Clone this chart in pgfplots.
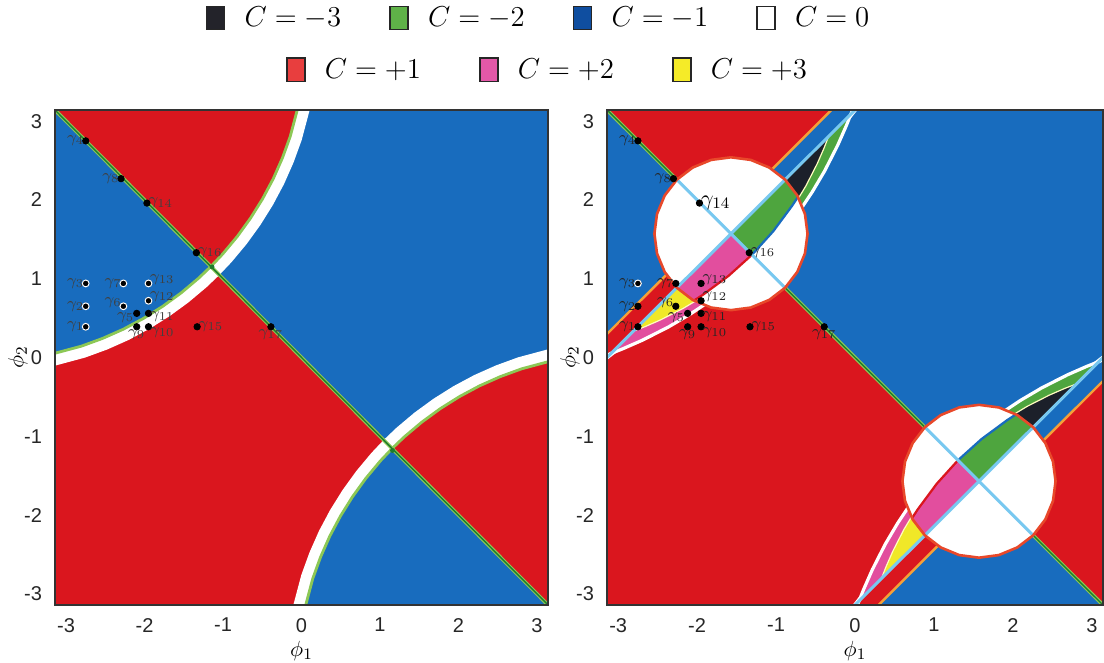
\documentclass[border=0pt]{standalone}
\usepackage[no-math]{fontspec}
\setmainfont{Liberation Sans}
\usepackage{pgfplots}
\pgfplotsset{compat=1.18}

\definecolor{cred}{RGB}{218,22,30}
\definecolor{cblue}{RGB}{24,108,190}
\definecolor{cgreen}{RGB}{78,165,62}
\definecolor{cpink}{RGB}{226,78,158}
\definecolor{cblack}{RGB}{28,32,42}
\definecolor{cyellow}{RGB}{240,232,40}
\definecolor{clb}{RGB}{120,200,240}
\definecolor{corange}{RGB}{245,160,55}
\definecolor{ccirc}{RGB}{232,72,42}
\definecolor{cdg}{RGB}{30,125,45}
\definecolor{clg}{RGB}{140,200,85}
\definecolor{lgblack}{RGB}{35,35,42}
\definecolor{lggreen}{RGB}{95,178,72}
\definecolor{lgblue}{RGB}{15,78,160}
\definecolor{lgred}{RGB}{232,62,62}
\definecolor{lgpink}{RGB}{228,88,168}
\definecolor{lgyellow}{RGB}{245,235,40}

\pgfplotsset{
  panel/.style={
    scale only axis, height=247.5pt,
    xmin=-3.1416, xmax=3.1416, ymin=-3.1416, ymax=3.1416,
    axis on top, clip=true,
    xtick={-3,-2,-1,0,1,2,3}, ytick={-3,-2,-1,0,1,2,3},
    xticklabels={-3,-2,-1,0,1,2,3}, yticklabels={-3,-2,-1,0,1,2,3},
    major tick length=0pt,
    tick label style={font=\fontsize{10}{12}\selectfont, text=black!85},
    xticklabel style={yshift=-3pt},
    yticklabel style={xshift=-3pt},
    axis line style={draw=black!80, line width=1pt},
    xlabel={$\phi_1$}, ylabel={$\phi_2$},
    label style={font=\fontsize{11}{13}\selectfont},
    xlabel style={at={(axis description cs:0.5,-0.092)}, anchor=center},
    ylabel style={at={(axis description cs:-0.075,0.5)}, anchor=center},
    legend image code/.code={\path[draw=none, fill=none] (0pt,-6pt) rectangle (17pt,6pt); \draw[##1] (0pt,-5.8pt) rectangle (9pt,5.8pt);},
    legend style={draw=none, fill=none, font=\fontsize{15}{18}\selectfont, anchor=center},
  },
  lab/.style={only marks, mark=*, mark size=1.6pt, mark options={fill=black, draw=black},
    nodes near coords, point meta=explicit symbolic,
    nodes near coords style={font=\fontsize{8}{9}\selectfont, inner sep=0.6pt, #1}},
}

\begin{document}
\begin{tikzpicture}
\useasboundingbox (0,0) rectangle (552pt,331.5pt);

% ================= LEFT PANEL =================
\begin{axis}[panel, width=246.5pt, at={(27.5pt,29pt)}, anchor=south west,
  legend columns=4, legend style={at={(axis description cs:0.983,1.186)},
  /tikz/every even column/.append style={column sep=22pt}}]
\addlegendimage{fill=lgblack, draw=black!85, line width=0.8pt}
\addlegendimage{fill=lggreen, draw=black!85, line width=0.8pt}
\addlegendimage{fill=lgblue, draw=black!85, line width=0.8pt}
\addlegendimage{fill=white, draw=black!85, line width=0.8pt}
\addlegendentry{$C=-3$}
\addlegendentry{$C=-2$}
\addlegendentry{$C=-1$}
\addlegendentry{$C=0$}

\addplot[fill=cred, draw=none] coordinates {(-3.3,-3.3) (-3.3,3.3) (3.3,-3.3)};
\addplot[fill=cblue, draw=none] coordinates {(-3.3,3.3) (3.3,3.3) (3.3,-3.3)};
\addplot[white, line width=12pt] coordinates {(-3.224,0.032) (-2.805,0.144) (-2.533,0.243) (-2.269,0.360) (-2.014,0.496) (-1.768,0.650) (-1.534,0.820) (-1.312,1.006) (-1.155,1.155) (-1.006,1.312) (-0.820,1.534) (-0.650,1.768) (-0.496,2.014) (-0.360,2.269) (-0.243,2.533) (-0.144,2.805) (-0.032,3.224)};
\addplot[white, line width=12pt] coordinates {(3.224,-0.032) (2.805,-0.144) (2.533,-0.243) (2.269,-0.360) (2.014,-0.496) (1.768,-0.650) (1.534,-0.820) (1.312,-1.006) (1.155,-1.155) (1.006,-1.312) (0.820,-1.534) (0.650,-1.768) (0.496,-2.014) (0.360,-2.269) (0.243,-2.533) (0.144,-2.805) (0.032,-3.224)};
\addplot[fill=cred, draw=none] coordinates {(-1.155,1.155) (-1.006,1.312) (-0.820,1.534) (-0.650,1.768) (-0.496,2.014) (-0.360,2.269) (-0.243,2.533) (-0.144,2.805) (-0.032,3.224) (-3.3,3.3)};
\addplot[fill=cblue, draw=none] coordinates {(-1.155,1.155) (-1.312,1.006) (-1.534,0.820) (-1.768,0.650) (-2.014,0.496) (-2.269,0.360) (-2.533,0.243) (-2.805,0.144) (-3.224,0.032) (-3.3,3.3)};
\addplot[fill=cred, draw=none] coordinates {(1.155,-1.155) (1.312,-1.006) (1.534,-0.820) (1.768,-0.650) (2.014,-0.496) (2.269,-0.360) (2.533,-0.243) (2.805,-0.144) (3.224,-0.032) (3.3,-3.3)};
\addplot[fill=cblue, draw=none] coordinates {(1.155,-1.155) (1.006,-1.312) (0.820,-1.534) (0.650,-1.768) (0.496,-2.014) (0.360,-2.269) (0.243,-2.533) (0.144,-2.805) (0.032,-3.224) (3.3,-3.3)};
\addplot[clg, line width=1.4pt] coordinates {(-3.224,0.032) (-2.805,0.144) (-2.533,0.243) (-2.269,0.360) (-2.014,0.496) (-1.768,0.650) (-1.534,0.820) (-1.312,1.006) (-1.155,1.155) (-1.006,1.312) (-0.820,1.534) (-0.650,1.768) (-0.496,2.014) (-0.360,2.269) (-0.243,2.533) (-0.144,2.805) (-0.032,3.224)};
\addplot[clg, line width=1.4pt] coordinates {(3.224,-0.032) (2.805,-0.144) (2.533,-0.243) (2.269,-0.360) (2.014,-0.496) (1.768,-0.650) (1.534,-0.820) (1.312,-1.006) (1.155,-1.155) (1.006,-1.312) (0.820,-1.534) (0.650,-1.768) (0.496,-2.014) (0.360,-2.269) (0.243,-2.533) (0.144,-2.805) (0.032,-3.224)};
\addplot[clg, line width=1.8pt] coordinates {(-3.3,3.3) (3.3,-3.3)};
\addplot[cdg, line width=0.7pt] coordinates {(-3.3,3.3) (3.3,-3.3)};
\addplot[only marks, mark=*, mark size=1pt, mark options={fill=cdg, draw=cdg}] coordinates {(-1.14,1.15) (1.16,-1.18)};
% points
\addplot[lab={anchor=east, text=black!75}] table[meta=lab, row sep=\\] {x y lab\\ -2.75 2.75 $\gamma_4$\\ -2.30 2.27 $\gamma_8$\\ -2.75 0.94 $\gamma_3$\\ -2.75 0.65 $\gamma_2$\\ -2.75 0.39 $\gamma_1$\\ -2.27 0.94 $\gamma_7$\\};
\addplot[lab={anchor=east, text=black!75, yshift=2pt}] table[meta=lab, row sep=\\] {x y lab\\ -2.27 0.65 $\gamma_6$\\};
\addplot[lab={anchor=west, text=black!75}] table[meta=lab, row sep=\\] {x y lab\\ -1.97 1.96 $\gamma_{14}$\\ -1.34 1.33 $\gamma_{16}$\\ -1.33 0.39 $\gamma_{15}$\\};
\addplot[lab={anchor=west, text=black!75, yshift=2pt}] table[meta=lab, row sep=\\] {x y lab\\ -1.95 0.94 $\gamma_{13}$\\ -1.95 0.72 $\gamma_{12}$\\};
\addplot[lab={anchor=west, text=black!75, yshift=-1.5pt}] table[meta=lab, row sep=\\] {x y lab\\ -1.95 0.56 $\gamma_{11}$\\};
\addplot[lab={anchor=west, text=black!75, yshift=-3pt}] table[meta=lab, row sep=\\] {x y lab\\ -1.95 0.39 $\gamma_{10}$\\};
\addplot[lab={anchor=north, text=black!75, yshift=-0.5pt}] table[meta=lab, row sep=\\] {x y lab\\ -2.10 0.39 $\gamma_9$\\ -0.39 0.39 $\gamma_{17}$\\};
\addplot[lab={anchor=east, text=black!75, yshift=-2pt, xshift=-0.5pt}] table[meta=lab, row sep=\\] {x y lab\\ -2.10 0.56 $\gamma_5$\\};
\addplot[only marks, mark=*, mark size=1.7pt, mark options={fill=black, draw=white, line width=0.5pt}] coordinates {(-2.75,0.94) (-2.75,0.65) (-2.75,0.39) (-2.27,0.94) (-2.27,0.65) (-1.95,0.94) (-1.95,0.72)};
\end{axis}

% ================= RIGHT PANEL =================
\begin{axis}[panel, width=248pt, at={(303.5pt,29pt)}, anchor=south west,
  legend columns=3, legend style={at={(axis description cs:-0.118,1.081)},
  /tikz/every even column/.append style={column sep=27pt}}]
\addlegendimage{fill=lgred, draw=black!85, line width=0.8pt}
\addlegendimage{fill=lgpink, draw=black!85, line width=0.8pt}
\addlegendimage{fill=lgyellow, draw=black!85, line width=0.8pt}
\addlegendentry{$C=+1$}
\addlegendentry{$C=+2$}
\addlegendentry{$C=+3$}

\addplot[fill=cred, draw=none] coordinates {(-3.3,-3.3) (-3.3,3.3) (3.3,-3.3)};
\addplot[fill=cblue, draw=none] coordinates {(-3.3,3.3) (3.3,3.3) (3.3,-3.3)};
% beyond the orange lines
\addplot[fill=cred, draw=none] coordinates {(-1.72,1.72) (-0.14,3.3) (-3.3,3.3)};
\addplot[fill=cblue, draw=none] coordinates {(-1.72,1.72) (-3.3,3.3) (-3.3,0.14)};
\addplot[fill=cred, draw=none] coordinates {(1.72,-1.72) (3.3,-0.14) (3.3,-3.3)};
\addplot[fill=cblue, draw=none] coordinates {(1.72,-1.72) (3.3,-3.3) (0.14,-3.3)};
% white lenses near the edges
\addplot[fill=white, draw=none] coordinates {(2.90,-0.16) (3.3,0.158) (3.3,0.02)};
\addplot[fill=white, draw=none] coordinates {(-0.16,2.90) (0.158,3.3) (0.02,3.3)};
\addplot[fill=white, draw=none] coordinates {(-2.90,0.16) (-3.3,-0.158) (-3.3,-0.02)};
\addplot[fill=white, draw=none] coordinates {(0.16,-2.90) (-0.158,-3.3) (-0.02,-3.3)};
% crescents C=-2 / +2
\addplot[fill=cgreen, draw=none] coordinates {(1.571,-1.571) (1.232,-1.232) (1.526,-0.961) (1.844,-0.713) (2.099,-0.543) (2.365,-0.386) (2.694,-0.219) (2.940,-0.111) (3.091,-0.051)};
\addplot[fill=cpink, draw=none] coordinates {(1.571,-1.571) (1.232,-1.232) (0.961,-1.526) (0.713,-1.844) (0.543,-2.099) (0.386,-2.365) (0.219,-2.694) (0.111,-2.940) (0.051,-3.091)};
\addplot[fill=cgreen, draw=none] coordinates {(-1.571,1.571) (-1.232,1.232) (-0.961,1.526) (-0.713,1.844) (-0.543,2.099) (-0.386,2.365) (-0.219,2.694) (-0.111,2.940) (-0.051,3.091)};
\addplot[fill=cpink, draw=none] coordinates {(-1.571,1.571) (-1.232,1.232) (-1.526,0.961) (-1.844,0.713) (-2.099,0.543) (-2.365,0.386) (-2.694,0.219) (-2.940,0.111) (-3.091,0.051)};
% crescents C=-3 / +3
\addplot[fill=cblack, draw=none] coordinates {(1.571,-1.571) (1.288,-1.288) (1.586,-1.020) (1.913,-0.782) (2.178,-0.622) (2.459,-0.479) (2.656,-0.393) (2.808,-0.334)};
\addplot[fill=cyellow, draw=none] coordinates {(1.571,-1.571) (1.288,-1.288) (1.020,-1.586) (0.782,-1.913) (0.622,-2.178) (0.479,-2.459) (0.393,-2.656) (0.334,-2.808)};
\addplot[fill=cblack, draw=none] coordinates {(-1.571,1.571) (-1.288,1.288) (-1.020,1.586) (-0.782,1.913) (-0.622,2.178) (-0.479,2.459) (-0.393,2.656) (-0.334,2.808)};
\addplot[fill=cyellow, draw=none] coordinates {(-1.571,1.571) (-1.288,1.288) (-1.586,1.020) (-1.913,0.782) (-2.178,0.622) (-2.459,0.479) (-2.656,0.393) (-2.808,0.334)};
% thin light boundary between C=-3/-2 and +3/+2
\addplot[white!75!yellow, line width=0.6pt] coordinates {(0.334,-2.808) (0.393,-2.656) (0.479,-2.459) (0.622,-2.178) (0.782,-1.913) (1.020,-1.586) (1.288,-1.288) (1.586,-1.020) (1.913,-0.782) (2.178,-0.622) (2.459,-0.479) (2.656,-0.393) (2.808,-0.334)};
\addplot[white!75!yellow, line width=0.6pt] coordinates {(-0.334,2.808) (-0.393,2.656) (-0.479,2.459) (-0.622,2.178) (-0.782,1.913) (-1.020,1.586) (-1.288,1.288) (-1.586,1.020) (-1.913,0.782) (-2.178,0.622) (-2.459,0.479) (-2.656,0.393) (-2.808,0.334)};
% white outer boundaries
\addplot[white, line width=1.6pt] coordinates {(0.051,-3.091) (0.111,-2.940) (0.219,-2.694) (0.386,-2.365) (0.543,-2.099) (0.713,-1.844) (0.961,-1.526) (1.232,-1.232) (1.526,-0.961) (1.844,-0.713) (2.099,-0.543) (2.365,-0.386) (2.694,-0.219) (2.940,-0.111) (3.091,-0.051)};
\addplot[white, line width=1.6pt] coordinates {(-0.051,3.091) (-0.111,2.940) (-0.219,2.694) (-0.386,2.365) (-0.543,2.099) (-0.713,1.844) (-0.961,1.526) (-1.232,1.232) (-1.526,0.961) (-1.844,0.713) (-2.099,0.543) (-2.365,0.386) (-2.694,0.219) (-2.940,0.111) (-3.091,0.051)};
% light blue straight lines
\addplot[clb, line width=1.5pt] coordinates {(-3.3,-0.158) (0.158,3.3)};
\addplot[clb, line width=1.5pt] coordinates {(-0.158,-3.3) (3.3,0.158)};
% orange lines
\addplot[corange, line width=1.2pt] coordinates {(-3.3,0.14) (-0.14,3.3)};
\addplot[corange, line width=1.2pt] coordinates {(0.14,-3.3) (3.3,-0.14)};
% diagonal
\addplot[clg, line width=1.8pt] coordinates {(-3.3,3.3) (3.3,-3.3)};
\addplot[cdg, line width=0.7pt] coordinates {(-3.3,3.3) (3.3,-3.3)};
% circles (white)
\addplot[fill=white, draw=none] coordinates {(2.541,-1.571) (2.508,-1.320) (2.411,-1.086) (2.257,-0.885) (2.056,-0.731) (1.822,-0.634) (1.571,-0.601) (1.320,-0.634) (1.086,-0.731) (0.885,-0.885) (0.731,-1.086) (0.634,-1.320) (0.601,-1.571) (0.634,-1.822) (0.731,-2.056) (0.885,-2.257) (1.086,-2.411) (1.320,-2.508) (1.571,-2.541) (1.822,-2.508) (2.056,-2.411) (2.257,-2.257) (2.411,-2.056) (2.508,-1.822)};
\addplot[fill=white, draw=none] coordinates {(-2.541,1.571) (-2.508,1.320) (-2.411,1.086) (-2.257,0.885) (-2.056,0.731) (-1.822,0.634) (-1.571,0.601) (-1.320,0.634) (-1.086,0.731) (-0.885,0.885) (-0.731,1.086) (-0.634,1.320) (-0.601,1.571) (-0.634,1.822) (-0.731,2.056) (-0.885,2.257) (-1.086,2.411) (-1.320,2.508) (-1.571,2.541) (-1.822,2.508) (-2.056,2.411) (-2.257,2.257) (-2.411,2.056) (-2.508,1.822)};
% thin C=-1 / +1 slivers in circles
\addplot[cblue, line width=2.4pt] coordinates {(2.056,-0.731) (1.939,-0.807) (1.613,-1.048) (1.316,-1.316)};
\addplot[cred, line width=2.4pt] coordinates {(0.731,-2.056) (0.807,-1.939) (1.048,-1.613) (1.316,-1.316)};
\addplot[cblue, line width=2.4pt] coordinates {(-0.731,2.056) (-0.807,1.939) (-1.048,1.613) (-1.316,1.316)};
\addplot[cred, line width=2.4pt] coordinates {(-2.056,0.731) (-1.939,0.807) (-1.613,1.048) (-1.316,1.316)};
% stripes in circles
\addplot[fill=cgreen, draw=none] coordinates {(1.571,-1.571) (2.257,-0.885) (2.155,-0.796) (2.056,-0.731) (1.939,-0.807) (1.613,-1.048) (1.316,-1.316)};
\addplot[fill=cpink, draw=none] coordinates {(1.571,-1.571) (0.885,-2.257) (0.796,-2.155) (0.731,-2.056) (0.807,-1.939) (1.048,-1.613) (1.316,-1.316)};
\addplot[fill=cgreen, draw=none] coordinates {(-1.571,1.571) (-0.885,2.257) (-0.796,2.155) (-0.731,2.056) (-0.807,1.939) (-1.048,1.613) (-1.316,1.316)};
\addplot[fill=cpink, draw=none] coordinates {(-1.571,1.571) (-2.257,0.885) (-2.155,0.796) (-2.056,0.731) (-1.939,0.807) (-1.613,1.048) (-1.316,1.316)};
% light blue lines inside circles
\addplot[clb, line width=1.5pt] coordinates {(0.885,-0.885) (2.257,-2.257)};
\addplot[clb, line width=1.5pt] coordinates {(0.885,-2.257) (2.257,-0.885)};
\addplot[clb, line width=1.5pt] coordinates {(-2.257,2.257) (-0.885,0.885)};
\addplot[clb, line width=1.5pt] coordinates {(-2.257,0.885) (-0.885,2.257)};
% circle outlines
\addplot[ccirc, line width=1.3pt, line join=round] coordinates {(2.541,-1.571) (2.508,-1.320) (2.411,-1.086) (2.257,-0.885) (2.056,-0.731) (1.822,-0.634) (1.571,-0.601) (1.320,-0.634) (1.086,-0.731) (0.885,-0.885) (0.731,-1.086) (0.634,-1.320) (0.601,-1.571) (0.634,-1.822) (0.731,-2.056) (0.885,-2.257) (1.086,-2.411) (1.320,-2.508) (1.571,-2.541) (1.822,-2.508) (2.056,-2.411) (2.257,-2.257) (2.411,-2.056) (2.508,-1.822) (2.541,-1.571) (2.508,-1.320)};
\addplot[ccirc, line width=1.3pt, line join=round] coordinates {(-2.541,1.571) (-2.508,1.320) (-2.411,1.086) (-2.257,0.885) (-2.056,0.731) (-1.822,0.634) (-1.571,0.601) (-1.320,0.634) (-1.086,0.731) (-0.885,0.885) (-0.731,1.086) (-0.634,1.320) (-0.601,1.571) (-0.634,1.822) (-0.731,2.056) (-0.885,2.257) (-1.086,2.411) (-1.320,2.508) (-1.571,2.541) (-1.822,2.508) (-2.056,2.411) (-2.257,2.257) (-2.411,2.056) (-2.508,1.822) (-2.541,1.571) (-2.508,1.320)};
% points
\addplot[lab={anchor=east, text=black!85}] table[meta=lab, row sep=\\] {x y lab\\ -2.75 2.75 $\gamma_4$\\ -2.30 2.27 $\gamma_8$\\ -2.75 0.94 $\gamma_3$\\ -2.75 0.65 $\gamma_2$\\ -2.75 0.39 $\gamma_1$\\ -2.27 0.94 $\gamma_7$\\};
\addplot[lab={anchor=east, text=black!85, yshift=2pt}] table[meta=lab, row sep=\\] {x y lab\\ -2.27 0.65 $\gamma_6$\\};
\addplot[lab={anchor=west, text=black!85}] table[meta=lab, row sep=\\] {x y lab\\ -1.34 1.33 $\gamma_{16}$\\ -1.33 0.39 $\gamma_{15}$\\};
\addplot[lab={anchor=west, text=black!85, yshift=2pt}] table[meta=lab, row sep=\\] {x y lab\\ -1.95 0.94 $\gamma_{13}$\\ -1.95 0.72 $\gamma_{12}$\\};
\addplot[lab={anchor=west, text=black!85, yshift=-1.5pt}] table[meta=lab, row sep=\\] {x y lab\\ -1.95 0.56 $\gamma_{11}$\\};
\addplot[lab={anchor=west, text=black!85, yshift=-3pt}] table[meta=lab, row sep=\\] {x y lab\\ -1.95 0.39 $\gamma_{10}$\\};
\addplot[lab={anchor=west, text=black, font=\fontsize{11}{12}\selectfont}] table[meta=lab, row sep=\\] {x y lab\\ -1.97 1.96 $\gamma_{14}$\\};
\addplot[lab={anchor=north, text=black!85, yshift=-0.5pt}] table[meta=lab, row sep=\\] {x y lab\\ -2.12 0.39 $\gamma_9$\\ -0.39 0.39 $\gamma_{17}$\\};
\addplot[lab={anchor=east, text=black!85, yshift=-2pt, xshift=-0.5pt}] table[meta=lab, row sep=\\] {x y lab\\ -2.12 0.56 $\gamma_5$\\};
\addplot[only marks, mark=*, mark size=1.7pt, mark options={fill=black, draw=white, line width=0.5pt}] coordinates {(-2.75,0.94)};
\end{axis}
\end{tikzpicture}
\end{document}
